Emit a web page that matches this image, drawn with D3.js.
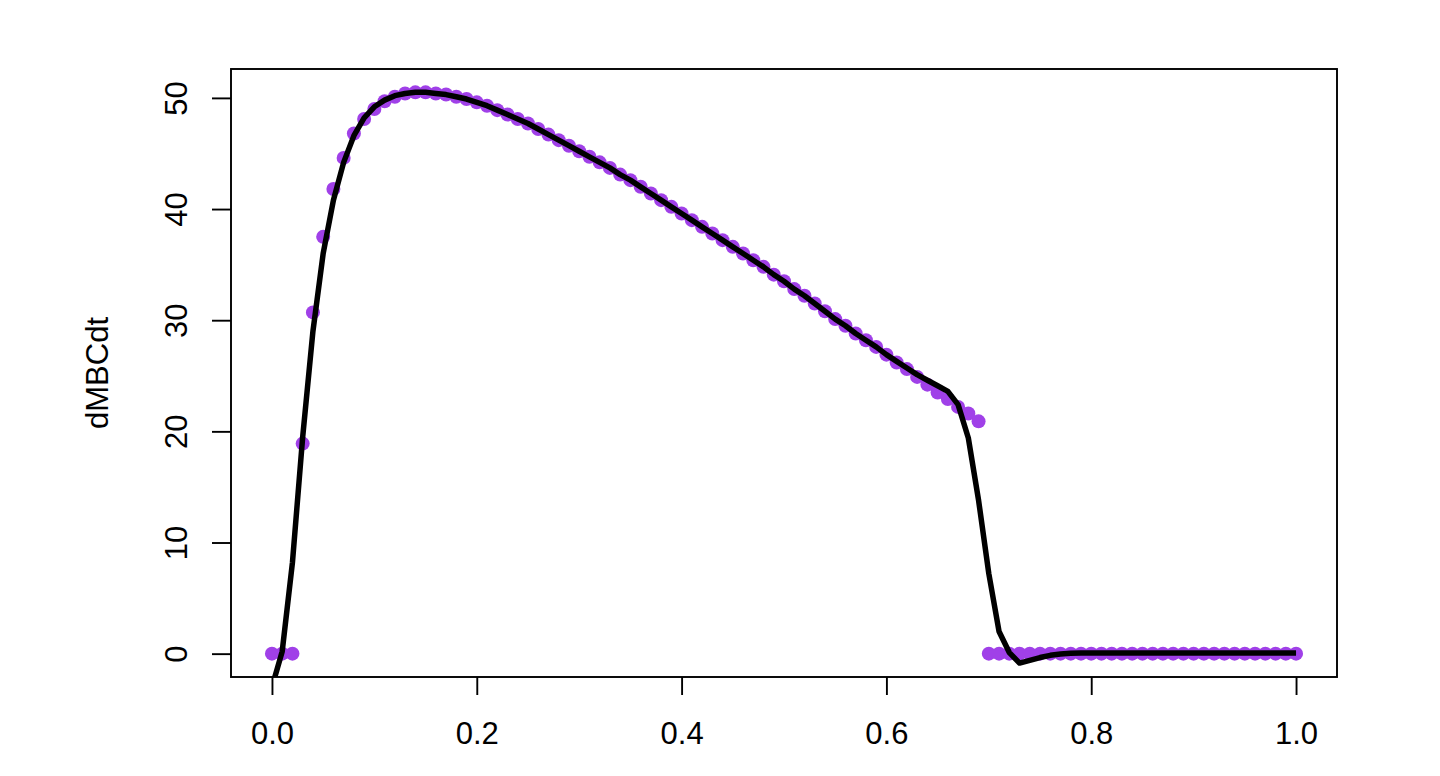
<!DOCTYPE html>
<html>
<head>
<meta charset="utf-8">
<script src="https://cdn.jsdelivr.net/npm/d3@7"></script>
<style>
  body { margin: 0; background: #fff; }
  svg text { font-family: "Liberation Sans", Arial, sans-serif; fill: #000; }
</style>
</head>
<body>
<div class="chart"></div>
<script>
// Data: time steps (0 .. 1 by 0.01), observed rate (points) and fitted rate (line).
const tSteps = d3.range(101).map((i) => i / 100);

const observed = [
  0, 0, 0, 18.9, 30.7, 37.5, 41.8, 44.6, 46.8, 48.1,
  49.0, 49.7, 50.1, 50.4, 50.5, 50.5, 50.4, 50.3, 50.1, 49.9,
  49.6, 49.3, 48.9, 48.5, 48.1, 47.7, 47.2, 46.7, 46.2, 45.7,
  45.2, 44.7, 44.2, 43.7, 43.1, 42.6, 42.0, 41.4, 40.8, 40.2,
  39.6, 39.0, 38.4, 37.8, 37.2, 36.6, 36.0, 35.4, 34.8, 34.1,
  33.5, 32.8, 32.2, 31.5, 30.8, 30.1, 29.5, 28.8, 28.2, 27.6,
  26.9, 26.2, 25.6, 24.9, 24.2, 23.5, 22.9, 22.2, 21.6, 20.9,
  0, 0, 0, 0, 0, 0, 0, 0, 0, 0,
  0, 0, 0, 0, 0, 0, 0, 0, 0, 0,
  0, 0, 0, 0, 0, 0, 0, 0, 0, 0,
  0
];

const fitted = [
  -3.0, 0.2, 8.2, 19.5, 29.0, 36.0, 40.8, 44.2, 46.6, 48.2,
  49.2, 49.8, 50.2, 50.4, 50.5, 50.5, 50.4, 50.3, 50.1, 49.9,
  49.6, 49.3, 48.9, 48.5, 48.1, 47.7, 47.2, 46.7, 46.2, 45.7,
  45.2, 44.7, 44.2, 43.7, 43.1, 42.6, 42.0, 41.4, 40.8, 40.2,
  39.6, 39.0, 38.4, 37.8, 37.2, 36.6, 36.0, 35.4, 34.8, 34.1,
  33.5, 32.8, 32.2, 31.5, 30.8, 30.1, 29.5, 28.8, 28.2, 27.6,
  26.9, 26.3, 25.7, 25.1, 24.6, 24.1, 23.6, 22.4, 19.4, 13.8,
  7.2, 2.0, 0.1, -0.85, -0.6, -0.35, -0.15, -0.03, 0.03, 0.05,
  0.05, 0.05, 0.05, 0.05, 0.05, 0.05, 0.05, 0.05, 0.05, 0.05,
  0.05, 0.05, 0.05, 0.05, 0.05, 0.05, 0.05, 0.05, 0.05, 0.05,
  0.05
];

const xTicks = [0, 0.2, 0.4, 0.6, 0.8, 1.0];
const yTicks = [0, 10, 20, 30, 40, 50];
const yTitle = "dMBCdt";

// Layout.
const W = 1440, H = 776;
const box = { left: 231, right: 1337, top: 69, bottom: 677 };

const svg = d3.select(".chart").append("svg")
  .attr("width", W)
  .attr("height", H);

// Scales (R style: 4% padding round the data range).
const xScale = d3.scaleLinear().domain([-0.04, 1.04]).range([box.left, box.right]);
const yScale = d3.scaleLinear().domain([-2.1, 52.6]).range([box.bottom, box.top]);

svg.append("defs").append("clipPath").attr("id", "plotclip")
  .append("rect")
  .attr("x", box.left).attr("y", box.top)
  .attr("width", box.right - box.left).attr("height", box.bottom - box.top);

const pts = tSteps.map((t, i) => ({ t: t, v: observed[i], f: fitted[i] }));

// Points.
svg.append("g")
  .attr("clip-path", "url(#plotclip)")
  .selectAll("circle")
  .data(pts)
  .enter()
  .append("circle")
  .attr("cx", (d) => xScale(d.t))
  .attr("cy", (d) => yScale(d.v))
  .attr("r", 7)
  .style("fill", "#a040e8");

// Fitted line.
const line = d3.line().x((d) => xScale(d.t)).y((d) => yScale(d.f));
svg.append("path")
  .datum(pts)
  .attr("clip-path", "url(#plotclip)")
  .attr("d", line)
  .attr("fill", "none")
  .attr("stroke", "#000")
  .attr("stroke-width", 5.5)
  .attr("stroke-linejoin", "round");

// Axes.
const xAxis = d3.axisBottom(xScale)
  .tickValues(xTicks)
  .tickFormat(d3.format(".1f"))
  .tickSizeInner(18)
  .tickSizeOuter(0)
  .tickPadding(27);

const xAxisDraw = svg.append("g")
  .attr("transform", `translate(0, ${box.bottom})`)
  .call(xAxis);
xAxisDraw.select(".domain").remove();
xAxisDraw.selectAll("line").attr("stroke-width", 1.9);
xAxisDraw.selectAll("text").style("font-size", "31px")
  .style("font-family", '"Liberation Sans", Arial, sans-serif');

const yAxis = d3.axisLeft(yScale)
  .tickValues(yTicks)
  .tickFormat(d3.format("d"))
  .tickSizeInner(19)
  .tickSizeOuter(0);

const yAxisDraw = svg.append("g")
  .attr("transform", `translate(${box.left}, 0)`)
  .call(yAxis);
yAxisDraw.select(".domain").remove();
yAxisDraw.selectAll("line").attr("stroke-width", 1.9);
yAxisDraw.selectAll("text")
  .attr("x", null)
  .attr("dy", null)
  .attr("transform", "translate(-44, 0) rotate(-90)")
  .attr("text-anchor", "middle")
  .style("font-size", "31px")
  .style("font-family", '"Liberation Sans", Arial, sans-serif');

// Y label.
svg.append("text")
  .attr("transform", `translate(108, ${(box.top + box.bottom) / 2}) rotate(-90)`)
  .attr("text-anchor", "middle")
  .style("font-size", "31px")
  .text(yTitle);

// Plot box.
svg.append("rect")
  .attr("x", box.left).attr("y", box.top)
  .attr("width", box.right - box.left).attr("height", box.bottom - box.top)
  .attr("fill", "none")
  .attr("stroke", "#000")
  .attr("stroke-width", 1.9);
</script>
</body>
</html>
